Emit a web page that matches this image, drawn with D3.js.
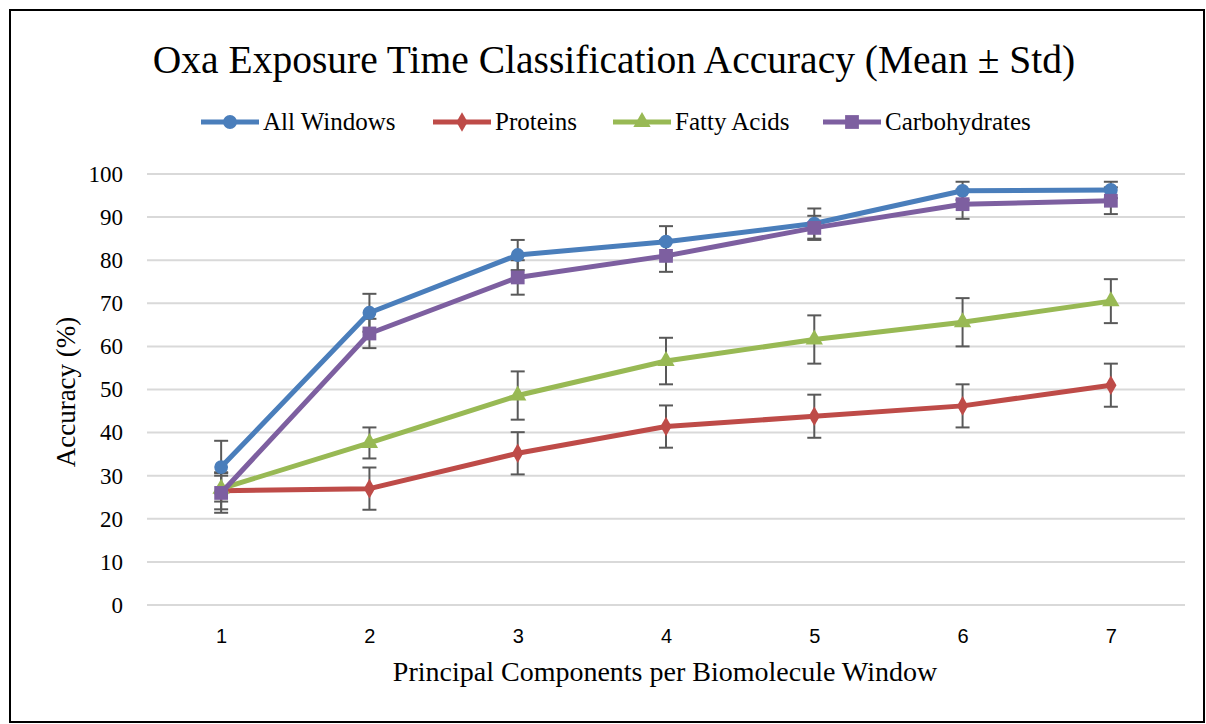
<!DOCTYPE html>
<html>
<head>
<meta charset="utf-8">
<script src="https://cdn.jsdelivr.net/npm/d3@7"></script>
<style>
  body { margin: 0; background: #fff; }
  svg text { font-family: "Liberation Serif", "Times New Roman", serif; fill: #000; }
</style>
</head>
<body>
<svg id="chart" width="1206" height="724"></svg>
<script>
// data
const components = [1, 2, 3, 4, 5, 6, 7];
const yTicks = [0, 10, 20, 30, 40, 50, 60, 70, 80, 90, 100];

const allWindows = [32.0, 67.8, 81.2, 84.3, 88.5, 96.1, 96.3];
const allWindowsStd = [6.1, 4.4, 3.5, 3.6, 3.5, 2.1, 1.9];
const proteins = [26.5, 27.0, 35.2, 41.4, 43.8, 46.2, 51.0];
const proteinsStd = [4.3, 4.9, 4.9, 4.9, 5.0, 5.0, 5.0];
const fattyAcids = [27.0, 37.6, 48.6, 56.6, 61.6, 65.6, 70.5];
const fattyAcidsStd = [3.0, 3.6, 5.6, 5.4, 5.6, 5.6, 5.1];
const carbohydrates = [26.0, 63.0, 76.0, 81.0, 87.5, 93.0, 93.8];
const carbohydratesStd = [4.6, 3.4, 4.0, 3.7, 2.8, 3.4, 3.1];

const series = [
  {name: 'All Windows', values: allWindows, std: allWindowsStd, color: '#4a7ebb', symbol: d3.symbolCircle, size: 150},
  {name: 'Proteins', values: proteins, std: proteinsStd, color: '#be4b48', symbol: d3.symbolDiamond, size: 110},
  {name: 'Fatty Acids', values: fattyAcids, std: fattyAcidsStd, color: '#98b954', symbol: d3.symbolTriangle, size: 130},
  {name: 'Carbohydrates', values: carbohydrates, std: carbohydratesStd, color: '#7d5fa0', symbol: d3.symbolSquare, size: 190}
];

const svg = d3.select('#chart');

// outer frame
svg.append('rect')
  .attr('x', 10).attr('y', 10)
  .attr('width', 1194).attr('height', 712)
  .attr('fill', '#fff')
  .attr('stroke', '#000')
  .attr('stroke-width', 2);

// scales
const x = d3.scaleLinear().domain([0.5, 7.5]).range([147, 1185]);
const y = d3.scaleLinear().domain([0, 100]).range([605, 174]);

// title
svg.append('text')
  .attr('x', 614).attr('y', 73)
  .attr('text-anchor', 'middle')
  .style('font-size', '39.5px')
  .text('Oxa Exposure Time Classification Accuracy (Mean ± Std)');

// gridlines
svg.append('g')
  .selectAll('line')
  .data(yTicks)
  .enter()
  .append('line')
  .attr('x1', x.range()[0]).attr('x2', x.range()[1])
  .attr('y1', d => y(d)).attr('y2', d => y(d))
  .attr('stroke', '#d9d9d9')
  .attr('stroke-width', 2);

// y axis labels (serif, like the rest of the text)
const yAxis = svg.append('g')
  .attr('transform', 'translate(123,0)')
  .call(d3.axisLeft(y).tickValues(yTicks).tickSize(0).tickPadding(0));
yAxis.attr('font-family', null).attr('font-size', null);
yAxis.select('.domain').remove();
yAxis.selectAll('text')
  .style('font-family', '"Liberation Serif", "Times New Roman", serif')
  .style('font-size', '23px')
  .attr('fill', '#000');

// x axis labels (sans in the original)
const xAxis = svg.append('g')
  .attr('transform', 'translate(0,629)')
  .call(d3.axisBottom(x).tickValues(components).tickSize(0).tickPadding(0).tickFormat(d3.format('d')));
xAxis.attr('font-family', null).attr('font-size', null);
xAxis.select('.domain').remove();
xAxis.selectAll('text')
  .style('font-family', '"Liberation Sans", Arial, sans-serif')
  .style('font-size', '20px')
  .attr('fill', '#000');

// axis titles
svg.append('text')
  .attr('x', 665).attr('y', 681)
  .attr('text-anchor', 'middle')
  .style('font-size', '28px')
  .text('Principal Components per Biomolecule Window');

svg.append('text')
  .attr('transform', 'translate(75,392) rotate(-90)')
  .attr('text-anchor', 'middle')
  .style('font-size', '27px')
  .text('Accuracy (%)');

// error bars
const errG = svg.append('g');
series.forEach(s => {
  s.values.forEach((v, i) => {
    const cx = x(components[i]);
    const lo = y(v - s.std[i]);
    const hi = y(v + s.std[i]);
    errG.append('line')
      .attr('x1', cx).attr('x2', cx).attr('y1', lo).attr('y2', hi)
      .attr('stroke', '#595959').attr('stroke-width', 2);
    [lo, hi].forEach(yy => {
      errG.append('line')
        .attr('x1', cx - 7).attr('x2', cx + 7).attr('y1', yy).attr('y2', yy)
        .attr('stroke', '#595959').attr('stroke-width', 2);
    });
  });
});

// lines and markers
const line = d3.line()
  .x((d, i) => x(components[i]))
  .y(d => y(d));

series.forEach(s => {
  svg.append('path')
    .datum(s.values)
    .attr('d', line)
    .attr('fill', 'none')
    .attr('stroke', s.color)
    .attr('stroke-width', 5)
    .attr('stroke-linejoin', 'round');

  svg.append('g')
    .selectAll('path')
    .data(s.values)
    .enter()
    .append('path')
    .attr('d', d3.symbol().type(s.symbol).size(s.size))
    .attr('transform', (d, i) => 'translate(' + x(components[i]) + ',' + y(d) + ')')
    .attr('fill', s.color);
});

// legend
const legendX = [201, 433, 613, 823];
const legend = svg.append('g');
series.forEach((s, i) => {
  const lx = legendX[i];
  const item = legend.append('g').attr('transform', 'translate(' + lx + ',122)');
  item.append('line')
    .attr('x1', 0).attr('x2', 58)
    .attr('stroke', s.color).attr('stroke-width', 5);
  item.append('path')
    .attr('d', d3.symbol().type(s.symbol).size(s.size))
    .attr('transform', 'translate(29,0)')
    .attr('fill', s.color);
  item.append('text')
    .attr('x', 62).attr('y', 8)
    .style('font-size', '25px')
    .text(s.name);
});
</script>
</body>
</html>
